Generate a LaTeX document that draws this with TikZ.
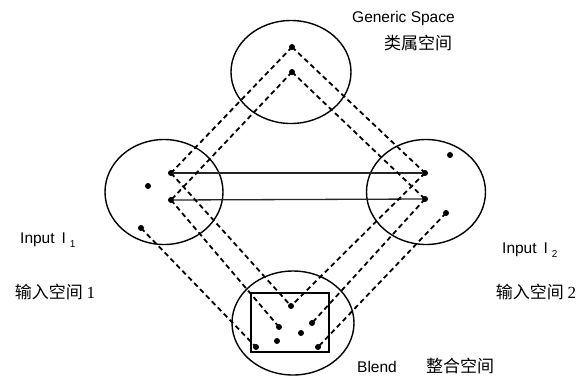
\documentclass[tikz,border=0pt]{standalone}
\usepackage{fontspec}
\setmainfont{Liberation Sans}
\newfontfamily\cjk{Noto Sans CJK SC}
\newfontfamily\numfont{Liberation Serif}
\usetikzlibrary{shapes.geometric}
\tikzset{space/.style={draw,ellipse,line width=1.4pt,inner sep=0pt},
  pt/.style={circle,fill,inner sep=0pt,minimum size=6pt},
  proj/.style={dash pattern=on 5pt off 3.5pt,line width=1.8pt},
  match/.style={line width=1.3pt,draw=black!85},
  eng/.style={font=\fontsize{15.5}{18}\selectfont,inner sep=0pt},
  zh/.style={font=\fontsize{17}{20}\cjk,inner sep=0pt}}

\begin{document}
\begin{tikzpicture}[x=1pt,y=-1pt]
\useasboundingbox (0,0) rectangle (584,376);
% four mental spaces
\node[space,minimum width=120pt,minimum height=103pt] (generic) at (291,72) {};
\node[space,minimum width=118pt,minimum height=105pt] (input1) at (164,192) {};
\node[space,minimum width=119pt,minimum height=105pt] (input2) at (426,192) {};
\node[space,minimum width=122pt,minimum height=104pt] (blend) at (293,323) {};
\node[draw,line width=1.4pt,minimum width=78pt,minimum height=59pt] (frame) at (290,322.5) {};
% elements
\foreach \n/\p in {g1/{292,47},g2/{292,72},
    a1/{171,173},a2/{171,200},a3/{148,186},a4/{141,228},
    b1/{425,173},b2/{425,199},b3/{450,155},b4/{446,213},
    m1/{291,306},m2/{279,327},m3/{312,323},m4/{301,333},m5/{277,341},m6/{256,347},m7/{318,347}}
  \node[pt] (\n) at (\p) {};
% cross-space mapping
\draw[match] (a1.center) -- (b1.center);
\draw[match] (a2.center) -- (b2.center);
% projections
\foreach \s/\t in {g1/a1,g1/b1,g2/a2,g2/b2,a1/m1,a2/m2,a4/m6,b1/m1,b2/m3,b4/m7}
  \draw[proj] (\s.center) -- (\t.center);
% labels
\node[eng,anchor=west] (lgen) at (352,18) {Generic Space};
\node[zh] (zgen) at (418,43) {类属空间};
\node[eng,anchor=west] (lin1) at (20,240) {Input\hspace{7pt}I\hspace{4pt}\raisebox{-4pt}{\fontsize{10}{10}\selectfont 1}};
\node[zh] (zin1) at (55,292) {输入空间 {\numfont 1}};
\node[eng,anchor=west] (lin2) at (502,250) {Input\hspace{7pt}I\hspace{4pt}\raisebox{-4pt}{\fontsize{10}{10}\selectfont 2}};
\node[zh] (zin2) at (536,292) {输入空间 {\numfont 2}};
\node[eng,anchor=base west] (lbl) at (357,372) {Blend};
\node[zh] (zbl) at (460,366) {整合空间};
\end{tikzpicture}
\end{document}
